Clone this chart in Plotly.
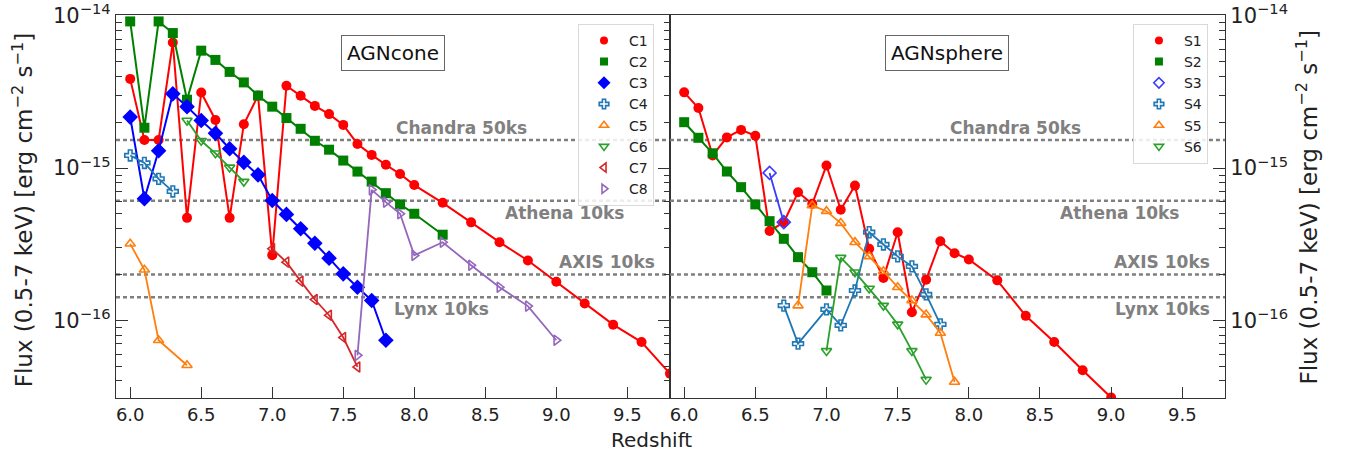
import math
import plotly.graph_objects as go

# ---- AGNcone models (redshift, 0.5-7 keV flux in erg cm^-2 s^-1) ----
z_C1 = [6.0, 6.1, 6.2, 6.3, 6.4, 6.5, 6.6, 6.7, 6.8, 6.9, 7.0, 7.1, 7.2, 7.3, 7.4,
        7.5, 7.6, 7.7, 7.8, 7.9, 8.0, 8.2, 8.4, 8.6, 8.8, 9.0, 9.2, 9.4, 9.6, 9.8]
f_C1 = [3.85e-15, 1.53e-15, 1.53e-15, 6.67e-15, 4.71e-16, 3.13e-15, 2.07e-15, 4.71e-16,
        1.94e-15, 2.99e-15, 2.68e-16, 3.47e-15, 2.98e-15, 2.56e-15, 2.26e-15, 1.92e-15,
        1.44e-15, 1.22e-15, 1.05e-15, 9.14e-16, 7.73e-16, 5.91e-16, 4.40e-16, 3.26e-16,
        2.47e-16, 1.79e-16, 1.29e-16, 9.37e-17, 7.20e-17, 4.47e-17]
z_C2 = [6.0, 6.1, 6.2, 6.3, 6.4, 6.5, 6.6, 6.7, 6.8, 6.9, 7.0, 7.1, 7.2, 7.3, 7.4,
        7.5, 7.6, 7.7, 7.8, 7.9, 8.0, 8.2]
f_C2 = [9.18e-15, 1.84e-15, 9.18e-15, 7.70e-15, 2.81e-15, 5.90e-15, 5.13e-15, 4.28e-15,
        3.65e-15, 2.99e-15, 2.53e-15, 2.13e-15, 1.81e-15, 1.51e-15, 1.32e-15, 1.12e-15,
        9.48e-16, 8.15e-16, 6.84e-16, 5.77e-16, 5.01e-16, 3.65e-16]
z_C3 = [6.0, 6.1, 6.2, 6.3, 6.4, 6.5, 6.6, 6.7, 6.8, 6.9, 7.0, 7.1, 7.2, 7.3, 7.4,
        7.5, 7.6, 7.7, 7.8]
f_C3 = [2.16e-15, 6.28e-16, 1.30e-15, 3.07e-15, 2.53e-15, 2.05e-15, 1.69e-15, 1.34e-15,
        1.09e-15, 9.02e-16, 6.12e-16, 4.96e-16, 3.99e-16, 3.21e-16, 2.56e-16, 2.02e-16,
        1.65e-16, 1.35e-16, 7.40e-17]
z_C4 = [6.0, 6.1, 6.2, 6.3]
f_C4 = [1.21e-15, 1.08e-15, 8.49e-16, 7.02e-16]
z_C5 = [6.0, 6.1, 6.2, 6.4]
f_C5 = [3.18e-16, 2.15e-16, 7.40e-17, 5.07e-17]
z_C6 = [6.4, 6.5, 6.6, 6.7, 6.8]
f_C6 = [2.05e-15, 1.51e-15, 1.25e-15, 1.01e-15, 8.15e-16]
z_C7 = [7.0, 7.1, 7.2, 7.3, 7.4, 7.5, 7.6]
f_C7 = [2.95e-16, 2.41e-16, 1.81e-16, 1.37e-16, 1.08e-16, 7.71e-17, 4.94e-17]
z_C8 = [7.6, 7.7, 7.8, 7.9, 8.0, 8.2, 8.4, 8.6, 8.8, 9.0]
f_C8 = [5.89e-17, 7.19e-16, 5.97e-16, 5.01e-16, 2.67e-16, 3.26e-16, 2.30e-16, 1.65e-16,
        1.24e-16, 7.40e-17]

# ---- AGNsphere models ----
z_S1 = [6.0, 6.1, 6.2, 6.3, 6.4, 6.5, 6.6, 6.7, 6.8, 6.9, 7.0, 7.1, 7.2, 7.3, 7.4,
        7.5, 7.6, 7.7, 7.8, 7.9, 8.0, 8.2, 8.4, 8.6, 8.8, 9.0]
f_S1 = [3.14e-15, 2.48e-15, 1.21e-15, 1.59e-15, 1.78e-15, 1.63e-15, 3.86e-16, 4.41e-16,
        6.93e-16, 5.82e-16, 1.04e-15, 5.32e-16, 7.67e-16, 2.95e-16, 1.90e-16, 3.79e-16,
        1.13e-16, 1.85e-16, 3.31e-16, 2.76e-16, 2.51e-16, 1.83e-16, 1.07e-16, 7.21e-17,
        4.70e-17, 3.11e-17]
z_S2 = [6.0, 6.1, 6.2, 6.3, 6.4, 6.5, 6.6, 6.7, 6.8, 6.9, 7.0]
f_S2 = [2.00e-15, 1.58e-15, 1.25e-15, 9.49e-16, 7.49e-16, 5.77e-16, 4.48e-16, 3.43e-16,
        2.60e-16, 2.07e-16, 1.57e-16]
z_S3 = [6.6, 6.7]
f_S3 = [9.29e-16, 4.41e-16]
z_S4 = [6.7, 6.8, 7.0, 7.1, 7.2, 7.3, 7.4, 7.5, 7.6, 7.7, 7.8]
f_S4 = [1.25e-16, 7.03e-17, 1.18e-16, 9.27e-17, 1.57e-16, 3.79e-16, 3.15e-16, 2.63e-16,
        2.26e-16, 1.48e-16, 9.41e-17]
z_S5 = [6.8, 6.9, 7.0, 7.1, 7.2, 7.3, 7.4, 7.5, 7.6, 7.7, 7.8, 7.9]
f_S5 = [1.25e-16, 5.68e-16, 5.21e-16, 4.35e-16, 3.26e-16, 2.63e-16, 2.10e-16, 1.65e-16,
        1.35e-16, 1.09e-16, 8.26e-17, 3.94e-17]
z_S6 = [7.0, 7.1, 7.2, 7.3, 7.4, 7.5, 7.6, 7.7]
f_S6 = [6.30e-17, 2.58e-16, 2.07e-16, 1.62e-16, 1.25e-16, 9.41e-17, 6.30e-17, 4.08e-17]

# ---- survey flux limits ----
limit_names = ["Chandra 50ks", "Athena 10ks", "AXIS 10ks", "Lynx 10ks"]
limit_flux = [1.53e-15, 6.1e-16, 2.0e-16, 1.42e-16]
# label anchor redshifts in each panel
limit_label_z_cone = [8.33, 9.06, 9.36, 8.19]
limit_label_z_sphere = [8.33, 9.06, 9.36, 9.36]
limit_label_dy = [0.08, -0.08, 0.08, -0.075]  # dex offsets of labels from lines

x_ticks = [6.0, 6.5, 7.0, 7.5, 8.0, 8.5, 9.0, 9.5]
y_ticks = [1e-16, 1e-15, 1e-14]
y_ticktext = ["10<sup>\u221216</sup>", "10<sup>\u221215</sup>", "10<sup>\u221214</sup>"]

X_RANGE = [5.9, 9.8]
Y_RANGE = [-16.51, -13.995]

FONT = "DejaVu Sans"

cone_series = [
    ("C1", z_C1, f_C1, "#ff0000", "circle", 10),
    ("C2", z_C2, f_C2, "#008000", "square", 10),
    ("C3", z_C3, f_C3, "#0000ff", "diamond", 12),
    ("C4", z_C4, f_C4, "#1f77b4", "cross-open", 9),
    ("C5", z_C5, f_C5, "#ff7f0e", "triangle-up-open", 9),
    ("C6", z_C6, f_C6, "#2ca02c", "triangle-down-open", 9),
    ("C7", z_C7, f_C7, "#d62728", "triangle-left-open", 9),
    ("C8", z_C8, f_C8, "#9467bd", "triangle-right-open", 9),
]
sphere_series = [
    ("S1", z_S1, f_S1, "#ff0000", "circle", 10),
    ("S2", z_S2, f_S2, "#008000", "square", 10),
    ("S3", z_S3, f_S3, "#3b3bff", "diamond-open", 10),
    ("S4", z_S4, f_S4, "#1f77b4", "cross-open", 9),
    ("S5", z_S5, f_S5, "#ff7f0e", "triangle-up-open", 9),
    ("S6", z_S6, f_S6, "#2ca02c", "triangle-down-open", 9),
]

fig = go.Figure()

# dotted flux-limit lines in both panels
for xa, ya in (("x", "y"), ("x2", "y2")):
    for fl in limit_flux:
        fig.add_trace(go.Scatter(
            x=X_RANGE, y=[fl, fl], xaxis=xa, yaxis=ya, mode="lines",
            line=dict(color="#7f7f7f", width=2.5, dash="4px,3px"),
            showlegend=False, hoverinfo="skip"))


def add_series(series, xa, ya, legend):
    for name, z, f, col, sym, size in series:
        is_open = sym.endswith("-open")
        fig.add_trace(go.Scatter(
            x=z, y=f, xaxis=xa, yaxis=ya, mode="lines+markers", name=name,
            line=dict(color=col, width=1.8 if is_open else 2),
            marker=dict(symbol=sym, size=size, color=col,
                        line=dict(color=col, width=1.6 if is_open else 0)),
            showlegend=False))
    # marker-only legend entries
    for name, z, f, col, sym, size in series:
        is_open = sym.endswith("-open")
        fig.add_trace(go.Scatter(
            x=[None], y=[None], xaxis=xa, yaxis=ya, mode="markers", name=name,
            marker=dict(symbol=sym, size=8 if sym != "diamond" else 10, color=col,
                        line=dict(color=col, width=1.6 if is_open else 0)),
            legend=legend, showlegend=True))


add_series(cone_series, "x", "y", "legend")
add_series(sphere_series, "x2", "y2", "legend2")

minor_vals = [m * 10.0 ** e for e in (-17, -16, -15) for m in range(2, 10)]

axis_line = dict(showline=True, linecolor="#333333", linewidth=1.2,
                 showgrid=False, zeroline=False, automargin=False)

xcommon = dict(range=X_RANGE, tickmode="array", tickvals=x_ticks,
               ticktext=[f"{v:.1f}" for v in x_ticks], ticks="inside", ticklen=11,
               tickwidth=1.2, tickcolor="#333333", mirror=True,
               tickfont=dict(family=FONT, size=18, color="#222222"), **axis_line)
ycommon = dict(type="log", range=Y_RANGE, tickmode="array", tickvals=y_ticks,
               ticktext=y_ticktext, ticks="inside", ticklen=12, tickwidth=1.2,
               tickcolor="#333333",
               minor=dict(tickmode="array", tickvals=minor_vals, ticks="inside",
                          ticklen=6, tickwidth=1, tickcolor="#333333", showgrid=False),
               tickfont=dict(family=FONT, size=21, color="#222222"), **axis_line)

legend_style = dict(xanchor="left", yanchor="top",
                    bgcolor="rgba(255,255,255,0.85)", bordercolor="#d9d9d9",
                    borderwidth=1, font=dict(family=FONT, size=14, color="#222222"),
                    tracegroupgap=0, itemwidth=40)

SPLIT = 0.4995
fig.update_layout(
    width=1346, height=460,
    margin=dict(l=116, r=121, t=15, b=62, autoexpand=False),
    paper_bgcolor="white", plot_bgcolor="white",
    font=dict(family=FONT, color="#222222"),
    xaxis=dict(domain=[0, SPLIT], anchor="y", **xcommon),
    xaxis2=dict(domain=[SPLIT, 1], anchor="y2", **xcommon),
    yaxis=dict(domain=[0, 1], anchor="x", side="left", mirror="ticks", **ycommon),
    yaxis2=dict(domain=[0, 1], anchor="x2", side="right", mirror=True, **ycommon),
    legend=dict(x=0.4166, y=0.977, **legend_style),
    legend2=dict(x=0.917, y=0.977, **legend_style),
    showlegend=True,
)

annotations = []
# panel titles in boxes
for xr, yr, label in (("x", "y", "AGNcone"), ("x2", "y2", "AGNsphere")):
    annotations.append(dict(
        x=7.85, y=-14.243, xref=xr, yref=yr, text=label, showarrow=False,
        font=dict(family=FONT, size=20, color="#111111"),
        bordercolor="#666666", borderwidth=1, borderpad=5, bgcolor="white"))

# flux-limit labels
for xr, yr, zs in (("x", "y", limit_label_z_cone), ("x2", "y2", limit_label_z_sphere)):
    for name, fl, zl, dy in zip(limit_names, limit_flux, zs, limit_label_dy):
        annotations.append(dict(
            x=zl, y=math.log10(fl) + dy, xref=xr, yref=yr, text=f"<b>{name}</b>",
            showarrow=False, font=dict(family=FONT, size=17, color="#808080")))

# shared x title and y titles on both sides
annotations.append(dict(x=0.4833, y=-0.11, xref="paper", yref="paper", text="Redshift",
                        showarrow=False, font=dict(family=FONT, size=20, color="#222222"),
                        xanchor="center", yanchor="middle"))
ytitle = "Flux (0.5-7 keV) [erg cm<sup>\u22122</sup> s<sup>\u22121</sup>]"
annotations.append(dict(x=-0.0839, y=0.49, xref="paper", yref="paper", text=ytitle,
                        textangle=-90, showarrow=False, xanchor="center",
                        yanchor="middle",
                        font=dict(family=FONT, size=23, color="#222222")))
annotations.append(dict(x=1.0744, y=0.496, xref="paper", yref="paper", text=ytitle,
                        textangle=-90, showarrow=False, xanchor="center",
                        yanchor="middle",
                        font=dict(family=FONT, size=23, color="#222222")))
fig.update_layout(annotations=annotations)

fig.write_html("out.html")
